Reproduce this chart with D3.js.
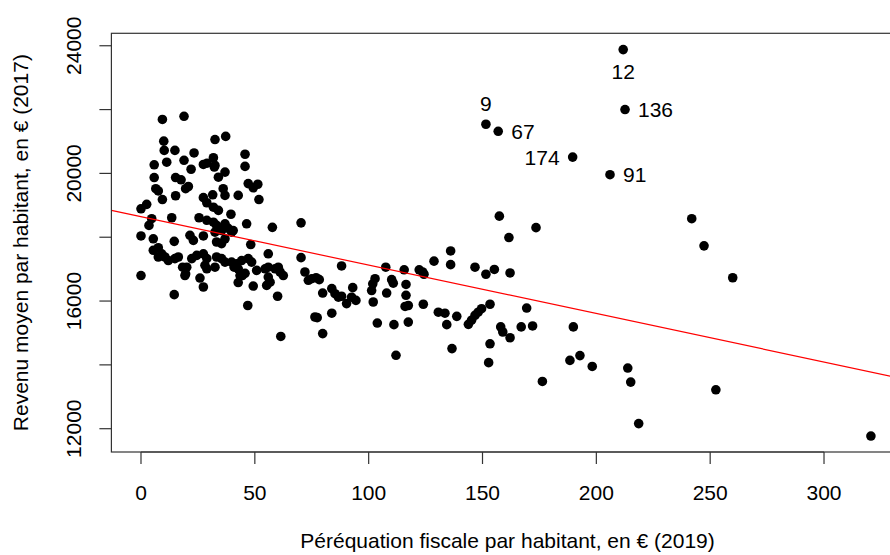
<!DOCTYPE html>
<html>
<head>
<meta charset="utf-8">
<script src="https://cdn.jsdelivr.net/npm/d3@7"></script>
<style>
  body { margin: 0; background: #fff; }
  svg text { font-family: "Liberation Sans", Arial, sans-serif; fill: #000; }
</style>
</head>
<body>
<div id="chart"></div>
<script>
// péréquation fiscale par habitant (2019)
const perequation = [
  9.4, 18.9, 10.0, 10.2, 14.9, 23.3, 32.5, 37.2, 5.8, 11.3,
  18.9, 22.0, 27.4, 29.0, 31.8, 32.2, 5.8, 15.2, 17.6, 20.8,
  19.6, 34.0, 6.5, 7.6, 9.4, 15.2, 27.4, 31.5, 28.9, 31.8,
  34.0, 0, 2.5, 4.7, 3.5, 13.5, 25.5, 28.9, 31.8, 33.2,
  32.5, 36.9, 45.7, 45.7, 47.1, 49.3, 51.3, 36.1, 36.9, 42.7,
  51.8, 39.5, 46.4, 57.7, 70.3, 36.9, 38.3, 35.4, 32.5, 39.8,
  36.9, 33.2, 35.4, 40.5, 48.2, 55.9, 70.3, 0, 5.4, 14.6,
  21.5, 23.0, 27.4, 5.4, 7.6, 9.1, 7.6, 10.5, 12.0, 14.9,
  16.4, 22.3, 24.5, 27.4, 28.9, 28.1, 28.9, 20.1, 19.3, 25.9,
  27.4, 0, 14.6, 32.5, 33.2, 35.4, 36.9, 39.8, 42.0, 44.2,
  47.1, 48.6, 42.7, 43.5, 42.7, 50.8, 54.5, 55.9, 58.9, 60.3,
  61.1, 62.5, 55.9, 56.7, 55.2, 49.3, 60.0, 46.9, 72.0, 75.0,
  73.5, 76.4, 61.4, 76.9, 78.3, 79.8, 77.4, 79.8, 83.8, 85.2,
  86.7, 88.1, 83.8, 88.1, 90.3, 92.5, 94.4, 93.0, 101.3, 101.8,
  102.8, 102.0, 103.8, 107.5, 107.9, 110.1, 110.8, 111.1, 112.0, 115.6,
  116.4, 116.4, 116.0, 117.4, 117.4, 122.2, 123.7, 124.3, 124.0, 128.7,
  130.6, 133.5, 134.3, 138.7, 136.0, 136.0, 136.6, 143.8, 145.2, 146.7,
  148.1, 149.6, 146.7, 151.5, 155.2, 153.3, 153.3, 152.7, 157.4, 161.6,
  162.1, 158.0, 158.9, 162.1, 167.0, 169.4, 172.0, 173.5, 176.3, 189.9,
  188.4, 192.8, 198.2, 241.9, 247.3, 259.9, 213.8, 215.1, 218.6, 252.5,
  320.6, 45.7, 18.3, 19.6, 40.9, 44.5
];

// revenu moyen par habitant (2017)
const revenu = [
  21690, 21790, 21010, 20720, 20720, 20640, 21060, 21160, 20270, 20350,
  20410, 20130, 20280, 20320, 20490, 20200, 19870, 19870, 19800, 19590,
  19520, 19880, 19520, 19450, 19180, 19300, 19240, 19330, 19080, 18940,
  18840, 18890, 19030, 18580, 18370, 18610, 18610, 18530, 18470, 18370,
  20250, 20040, 20600, 20220, 19680, 19550, 19660, 19520, 19310, 19310,
  19180, 18720, 18420, 18310, 18450, 18420, 18280, 18210, 18160, 18160,
  17950, 17850, 17800, 18210, 17770, 17480, 17360, 18040, 17950, 17870,
  18060, 17900, 18040, 17590, 17670, 17480, 17380, 17380, 17270, 17330,
  17380, 17330, 17430, 17480, 17330, 17120, 17010, 17060, 16800, 16720,
  16440, 16800, 16200, 17060, 17380, 17330, 17220, 17220, 17170, 17270,
  17330, 17220, 17010, 16800, 16580, 16960, 17010, 17060, 17010, 17060,
  16910, 16800, 16750, 16590, 16490, 16470, 16150, 15860, 16910, 16700,
  16650, 15500, 14890, 16730, 16670, 16250, 15480, 14980, 16390, 16230,
  16120, 16150, 15620, 17100, 15920, 16120, 16020, 16420, 16330, 16540,
  16700, 15970, 15310, 17060, 16250, 16670, 16560, 15260, 14300, 16980,
  16520, 16180, 15830, 15860, 15340, 16980, 16910, 16840, 15900, 17250,
  15650, 15620, 15260, 15520, 17570, 17140, 14510, 15270, 15400, 15550,
  15650, 15760, 17060, 16840, 16990, 15900, 14660, 14070, 18660, 17990,
  16880, 15190, 15030, 14850, 15190, 15780, 15220, 18300, 13480, 15190,
  14140, 14290, 13950, 18580, 17730, 16730, 13900, 13460, 12160, 13220,
  11770, 16870, 17060, 16850, 17060, 16800
];

// labelled communes
const labelX = [151.5, 156.9, 189.6, 211.8, 212.6, 206.0];
const labelY = [21540, 21320, 20510, 23880, 22000, 19960];
const labelText = ["9", "67", "174", "12", "136", "91"];
const labelPos = [3, 4, 2, 1, 4, 4]; // R text() pos: 1 below, 2 left, 3 above, 4 right

// abline(lm(...)) : intercept, slope
const fit = [18645, -15.18];

const xTicks = [0, 50, 100, 150, 200, 250, 300];
const yTicks = [12000, 14000, 16000, 18000, 20000, 22000, 24000];
const yTickLabels = [12000, 16000, 20000, 24000];

const xTitle = "Péréquation fiscale par habitant, en € (2019)";
const yTitle = "Revenu moyen par habitant, en € (2017)";

const width = 890, height = 555;
const plot = {left: 111.4, right: 903.7, top: 33.3, bottom: 452};

const svg = d3.select("#chart").append("svg")
  .attr("width", width)
  .attr("height", height);

const x = d3.scaleLinear().domain([-13, 335]).range([plot.left, plot.right]);
const y = d3.scaleLinear().domain([11270, 24390]).range([plot.bottom, plot.top]);

svg.append("clipPath").attr("id", "plot-clip")
  .append("rect")
  .attr("x", plot.left).attr("y", plot.top)
  .attr("width", plot.right - plot.left).attr("height", plot.bottom - plot.top);

// points
const points = perequation.map((v, i) => [v, revenu[i]])
  .concat(labelX.map((v, i) => [v, labelY[i]]));

svg.append("g")
  .selectAll("circle")
  .data(points)
  .enter().append("circle")
  .attr("cx", d => x(d[0]))
  .attr("cy", d => y(d[1]))
  .attr("r", 4.8)
  .attr("fill", "#000");

// regression line
const xd = x.domain();
svg.append("line")
  .attr("clip-path", "url(#plot-clip)")
  .attr("x1", x(xd[0])).attr("y1", y(fit[0] + fit[1] * xd[0]))
  .attr("x2", x(xd[1])).attr("y2", y(fit[0] + fit[1] * xd[1]))
  .attr("stroke", "#ff0000")
  .attr("stroke-width", 1.2);

// labels
const fs = 21;
const labels = labelText.map((t, i) => ({t, px: x(labelX[i]), py: y(labelY[i]), pos: labelPos[i]}));
svg.append("g")
  .selectAll("text")
  .data(labels)
  .enter().append("text")
  .attr("font-size", fs)
  .attr("text-anchor", d => d.pos === 2 ? "end" : d.pos === 4 ? "start" : "middle")
  .attr("x", d => d.pos === 2 ? d.px - 13 : d.pos === 4 ? d.px + 13 : d.px)
  .attr("y", d => {
    const c = d.pos === 1 ? d.py + 21.7 : d.pos === 3 ? d.py - 20.5 : d.py;
    return c + 0.358 * fs;
  })
  .text(d => d.t);

// box
svg.append("rect")
  .attr("x", plot.left).attr("y", plot.top)
  .attr("width", plot.right - plot.left).attr("height", plot.bottom - plot.top)
  .attr("fill", "none")
  .attr("stroke", "#333")
  .attr("stroke-width", 1.2);

// x axis
const xAxis = svg.append("g").attr("transform", `translate(0, ${plot.bottom})`);
xAxis.append("line")
  .attr("x1", x(xTicks[0])).attr("x2", x(xTicks[xTicks.length - 1]))
  .attr("stroke", "#333").attr("stroke-width", 1.2);
xAxis.selectAll(".tick")
  .data(xTicks)
  .enter().append("line")
  .attr("x1", d => x(d)).attr("x2", d => x(d))
  .attr("y1", 0).attr("y2", 12)
  .attr("stroke", "#333").attr("stroke-width", 1.2);
xAxis.selectAll("text")
  .data(xTicks)
  .enter().append("text")
  .attr("x", d => x(d))
  .attr("y", 48)
  .attr("text-anchor", "middle")
  .attr("font-size", fs)
  .text(d => d);

// y axis
const yAxis = svg.append("g").attr("transform", `translate(${plot.left}, 0)`);
yAxis.selectAll(".tick")
  .data(yTicks)
  .enter().append("line")
  .attr("y1", d => y(d)).attr("y2", d => y(d))
  .attr("x1", 0).attr("x2", -12)
  .attr("stroke", "#333").attr("stroke-width", 1.2);
yAxis.selectAll("text")
  .data(yTickLabels)
  .enter().append("text")
  .attr("transform", d => `translate(-30, ${y(d)}) rotate(-90)`)
  .attr("text-anchor", "middle")
  .attr("font-size", fs)
  .text(d => d);

// titles
svg.append("text")
  .attr("x", (plot.left + plot.right) / 2)
  .attr("y", 548)
  .attr("text-anchor", "middle")
  .attr("font-size", fs)
  .text(xTitle);

svg.append("text")
  .attr("transform", `translate(28, ${(plot.top + plot.bottom) / 2}) rotate(-90)`)
  .attr("text-anchor", "middle")
  .attr("font-size", fs)
  .text(yTitle);
</script>
</body>
</html>
